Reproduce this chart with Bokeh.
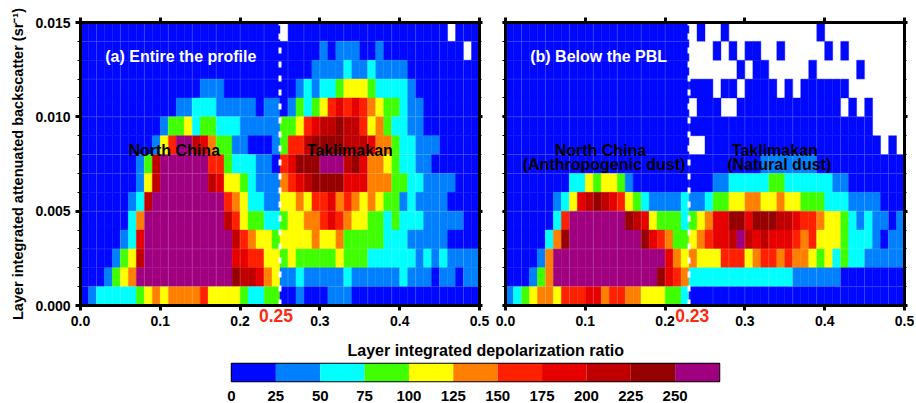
from bokeh.embed import file_html
from bokeh.resources import INLINE
from bokeh.plotting import figure
from bokeh.layouts import column, row
from bokeh.models import (ColumnDataSource, FixedTicker, Label, LinearAxis,
                          LinearColorMapper, NumeralTickFormatter, Range1d)
from bokeh.transform import transform

FONT = "Liberation Sans"
palette = ["#0008ff", "#0080ff", "#00ffff", "#40ff00", "#ffff00", "#ff8000",
           "#ff2000", "#e60000", "#c00000", "#960000", "#a00080"]
level_edges = [0, 25, 50, 75, 100, 125, 150, 175, 200, 225, 250, 275]
colorbar_labels = [0, 25, 50, 75, 100, 125, 150, 175, 200, 225, 250]
x_ticks = [0.0, 0.1, 0.2, 0.3, 0.4, 0.5]
y_ticks = [0.0, 0.005, 0.010, 0.015]
threshold_a = 0.25
threshold_b = 0.23
# one character per cell, 0.01 wide and 0.001 tall: colour class (A = 250+), W = no data
# rows are listed from the top (0.014-0.015) down to the bottom (0-0.001)
panel_a = [
    "0000000000 0000000000 00000W0000 0000000000 000000W000",
    "0000000000 0000000000 0000000000 1011100100 00000000W0",
    "0000000000 0000000000 0000000001 1112112111 1000000000",
    "0000000000 0000011100 0000000121 2234443222 2100000000",
    "0000000000 0011222111 1101101323 4676765433 2110000000",
    "0000000000 1334233222 1111133467 8898864532 2110000000",
    "0000000001 46AA875331 1000136689 9998887553 2211100000",
    "0000000138 AAAAAA6632 2211067999 AAA8975543 2211000000",
    "0000000148 AAAAAA8744 3211156789 9997775553 3221111000",
    "000000128A AAAAAAAA65 4221144546 6756545433 1211110000",
    "00000025AA AAAAAAAA86 4332234455 6765443323 2221111100",
    "00000127AA AAAAAAAAA8 6544344445 4453333322 2111110000",
    "00001348AA AAAAAAAAA7 7664434333 3343332222 2212121111",
    "0001345AAA AAAAAAAAA9 8875411211 1112111111 2111011011",
    "0122222345 4555564444 3223300100 0111000000 0000000000",
]
panel_b = [
    "0000000000 0000000000 000W0WW0WW WWWWWWWWW0 WWWWWWWWWW",
    "0000000000 0000000000 000WWW0W0W 00WW0WWWWW 0W0WWWWWWW",
    "0000000000 0000000000 000WWWWWW0 W00WWWWW0W WWWW0WWWWW",
    "0000000000 0000000000 000000W00W 0000W0W000 000WWWWWWW",
    "0000000000 0000000000 000W000WW0 0000000000 00W0W0WWWW",
    "0000000000 0000000000 0000000000 0000000000 000000WWWW",
    "0000000000 0000000000 000WW00000 0000000000 0000000W0W",
    "0000000000 0000000000 0000000000 0011111110 0000000000",
    "0000000022 4344310000 0000001122 2223322222 2110000000",
    "0000001247 8987643211 1121123344 5544544333 2221111000",
    "00000026AA AAAAA98743 3323457799 7999887665 4432121101",
    "00000259AA AAAAAAA976 533456778A 8787776564 4432221011",
    "000015AAAA AAAAAAAAAA 7545444666 4566565543 4232211111",
    "000135AAAA AAAAAAAAA9 7652222222 2222221111 1100000000",
    "1234554666 7756655444 3320000000 0000000000 0000000000",
]
# faint lines printed over the cells
line_x = [0.02, 0.05, 0.08, 0.11, 0.14, 0.17, 0.20, 0.23, 0.26, 0.28, 0.30, 0.33, 0.36, 0.39, 0.42, 0.45, 0.48]
line_y = [0.001, 0.003, 0.005, 0.007, 0.008, 0.010, 0.012, 0.014]

mapper = LinearColorMapper(palette=palette, low=0, high=275)


def cells(rows):
    left, right, bottom, top, val = [], [], [], [], []
    for i, text in enumerate(rows):
        text = text.replace(" ", "")
        assert len(text) == 50
        for k, c in enumerate(text):
            if c == "W":
                continue
            left.append(k / 100)
            right.append((k + 1) / 100)
            bottom.append((14 - i) / 1000)
            top.append((15 - i) / 1000)
            val.append(int(c, 16) * 25 + 12)
    return ColumnDataSource(dict(left=left, right=right, bottom=bottom, top=top, val=val))


def style_axis(ax, labelled):
    ax.axis_line_width = 3
    ax.axis_line_color = "black"
    ax.major_tick_line_width = 3
    ax.major_tick_line_color = "black"
    ax.major_tick_in = 0
    ax.major_tick_out = 5
    ax.minor_tick_line_color = "black"
    ax.minor_tick_line_width = 1
    ax.minor_tick_in = 0
    ax.minor_tick_out = 3
    ax.major_label_text_font = FONT
    ax.major_label_text_font_style = "bold"
    if labelled:
        ax.major_label_text_font_size = "14px"
        ax.major_label_text_color = "black"
    else:
        ax.major_label_text_font_size = "1px"
        ax.major_label_text_color = None
        ax.major_label_standoff = 0


def panel(rows, threshold, mark_offset, left_border, right_border, top_border, y_labelled, caption, caption_x, notes):
    p = figure(frame_width=399, frame_height=283,
               min_border_left=left_border, min_border_right=right_border,
               min_border_top=top_border, min_border_bottom=27,
               x_range=Range1d(0, 0.5), y_range=Range1d(0, 0.015),
               output_backend="svg", toolbar_location=None,
               x_axis_type=None, y_axis_type=None, outline_line_color=None,
               border_fill_color=None)
    p.grid.visible = False
    p.quad(left="left", right="right", bottom="bottom", top="top", source=cells(rows),
           fill_color=transform("val", mapper), line_color=transform("val", mapper), line_width=0.4)
    p.segment(x0=line_x, x1=line_x, y0=[0] * len(line_x), y1=[0.015] * len(line_x),
              line_color="white", line_alpha=0.16, line_width=1)
    p.segment(x0=[0] * len(line_y), x1=[0.5] * len(line_y), y0=line_y, y1=line_y,
              line_color="white", line_alpha=0.16, line_width=1)
    p.segment(x0=[threshold], x1=[threshold], y0=[0], y1=[0.015],
              line_color="white", line_width=3, line_dash="6 8")

    xt = FixedTicker(ticks=x_ticks, minor_ticks=[])
    yt = FixedTicker(ticks=y_ticks, minor_ticks=[i / 1000 for i in range(16)])
    bottom = LinearAxis(ticker=xt, major_label_standoff=5, formatter=NumeralTickFormatter(format="0.0"))
    style_axis(bottom, True)
    top = LinearAxis(ticker=xt)
    style_axis(top, False)
    left = LinearAxis(ticker=yt, major_label_standoff=5, formatter=NumeralTickFormatter(format="0.000"))
    style_axis(left, y_labelled)
    if y_labelled:
        left.axis_label = "Layer integrated attenuated backscatter (sr\u207b\u00b9)"
        left.axis_label_text_font = FONT
        left.axis_label_text_font_style = "bold"
        left.axis_label_text_font_size = "14.5px"
        left.axis_label_text_color = "black"
        left.axis_label_standoff = 6
        left.major_label_orientation = "horizontal"
    else:
        left.major_tick_out = 3
    right = LinearAxis(ticker=yt)
    style_axis(right, False)
    right.major_tick_out = 3
    right.minor_tick_out = 2
    p.add_layout(bottom, "below")
    p.add_layout(top, "above")
    p.add_layout(left, "left")
    p.add_layout(right, "right")

    # red threshold value under the frame, printed slightly off its line as in the original
    mark_at = threshold + mark_offset
    mark = LinearAxis(ticker=FixedTicker(ticks=[mark_at], minor_ticks=[]),
                      major_label_overrides={mark_at: f"{threshold:.2f}"},
                      axis_line_color=None, major_tick_line_color=None, minor_tick_line_color=None,
                      major_label_standoff=-26, major_label_text_color="#ff2a10",
                      major_label_text_font=FONT, major_label_text_font_style="bold",
                      major_label_text_font_size="17.5px")
    p.add_layout(mark, "below")

    p.add_layout(Label(x=caption_x, y=0.0132, text=caption, text_color="white",
                       text_font=FONT, text_font_style="bold", text_font_size="16px",
                       text_align="left", text_baseline="middle"))
    for x, y, s in notes:
        p.add_layout(Label(x=x, y=y, text=s, text_color="black", text_font=FONT,
                           text_font_style="bold", text_font_size="16px",
                           text_align="center", text_baseline="middle"))
    return p


fig_a = panel(panel_a, threshold_a, -0.005, 80, 13, 22, True, "(a) Entire the profile", 0.031,
              [(0.1175, 0.0082, "North China"), (0.3375, 0.0082, "Taklimakan")])
fig_b = panel(panel_b, threshold_b, 0.004, 13, 10, 22, False, "(b) Below the PBL", 0.031,
              [(0.119, 0.0082, "North China"), (0.1235, 0.00745, "(Anthropogenic dust)"),
               (0.3375, 0.0082, "Taklimakan"), (0.343, 0.00745, "(Natural dust)")])

bar = figure(frame_width=488, frame_height=18, min_border_left=231, min_border_right=10,
             min_border_top=31, min_border_bottom=22,
             x_range=Range1d(0, 275), y_range=Range1d(0, 1),
             output_backend="svg", toolbar_location=None,
             x_axis_type=None, y_axis_type=None, border_fill_color=None,
             outline_line_color="black", outline_line_width=1.5,
             title="Layer integrated depolarization ratio")
bar.title.align = "left"
bar.title.offset = 116
bar.title.text_font = FONT
bar.title.text_font_style = "bold"
bar.title.text_font_size = "16px"
bar.title.text_color = "black"
bar.grid.visible = False
bar.quad(left=level_edges[:-1], right=level_edges[1:], bottom=0, top=1,
         fill_color=palette, line_color=None)
bar_axis = LinearAxis(ticker=FixedTicker(ticks=colorbar_labels, minor_ticks=[]),
                      major_tick_line_color=None, minor_tick_line_color=None,
                      axis_line_color=None, major_label_standoff=3,
                      major_label_text_font=FONT, major_label_text_font_style="bold",
                      major_label_text_font_size="15px", major_label_text_color="black")
bar.add_layout(bar_axis, "below")

page = column(row(fig_a, fig_b, spacing=0), bar, spacing=0)
open("out.html", "w").write(file_html(page, INLINE))
